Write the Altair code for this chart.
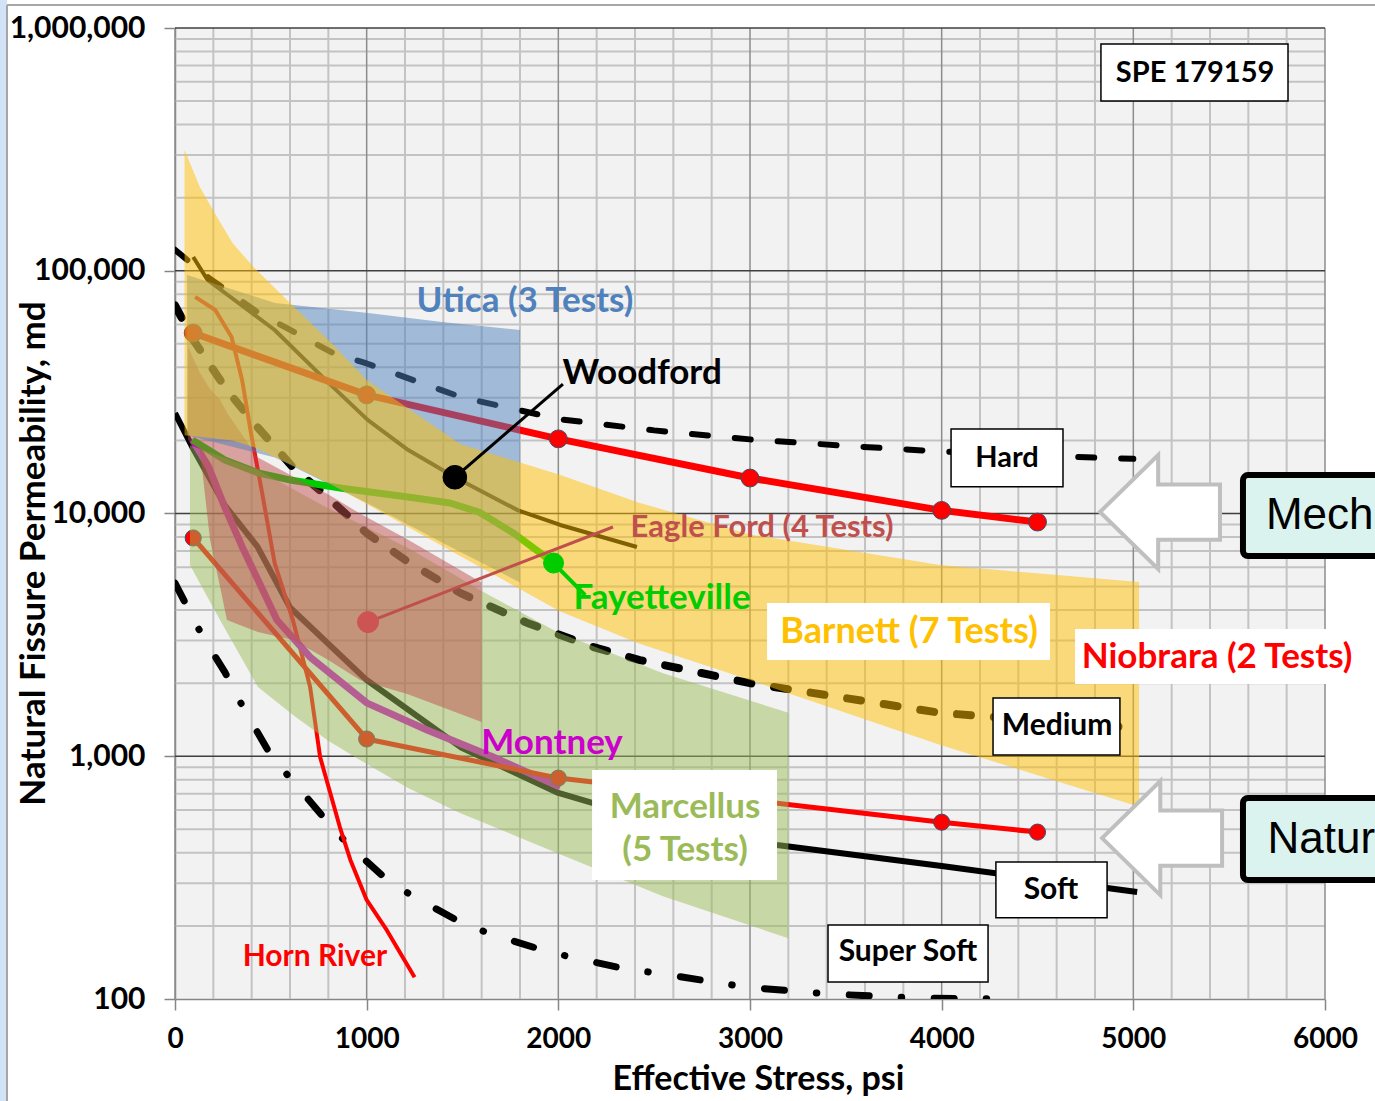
import altair as alt
import pandas as pd

FONT = "Lato"

# ---------------- stiffness reference curves (effective stress psi, permeability md)
HARD_PSI = [0, 180, 430, 820, 1000, 1490, 2000, 2500, 3000, 3500, 4000, 4500, 5000]
HARD_MD = [122000, 93000, 67500, 46000, 41500, 30200, 24500, 22000, 20200, 19000, 18000, 17300, 16800]

MEDIUM_PSI = [0, 95, 270, 430, 615, 795, 1000, 1225, 1490, 1835, 2180, 2425, 3000, 3990, 5000]
MEDIUM_MD = [72000, 52000, 32300, 22700, 15500, 11700, 8300, 6250, 4700, 3550, 2820, 2490, 2000, 1510, 1310]

SOFT_PSI = [0, 90, 260, 430, 600, 1000, 1490, 2000, 2500, 3140, 4000, 5020]
SOFT_MD = [25900, 18800, 10800, 7300, 4100, 2060, 1090, 706, 540, 431, 353, 276]

SUPER_PSI = [0, 140, 260, 360, 505, 610, 800, 905, 1120, 1250, 1500, 1650, 1930, 2080, 2370, 2515, 2975, 3405, 3860, 4300]
SUPER_MD = [5170, 3160, 2220, 1565, 993, 798, 531, 431, 303, 263, 205, 185, 158, 148, 132, 128, 112, 105, 101, 100]

# ---------------- shale test curves
WOODFORD_PSI = [95, 170, 520, 785, 1005, 1215, 1460, 1790, 2010, 2410]
WOODFORD_MD = [114000, 91600, 57000, 35500, 24300, 18300, 14100, 10300, 8970, 7280]

NIO_A_PSI = [95, 1000, 2000, 3000, 4000, 4500]
NIO_A_MD = [55400, 30800, 20300, 14000, 10300, 9220]
NIO_B_PSI = [95, 1000, 2000, 4000, 4500]
NIO_B_MD = [7930, 1178, 813, 535, 487]

HORN_PSI = [105, 210, 295, 350, 400, 455, 520, 615, 705, 757, 860, 915, 1000, 1105, 1250]
HORN_MD = [78000, 68900, 53300, 35500, 20700, 12100, 6250, 3640, 1930, 993, 511, 374, 256, 192, 123]

MONTNEY_PSI = [90, 175, 260, 350, 433, 532, 704, 1000, 1315, 1660, 2010]
MONTNEY_MD = [20100, 15600, 10600, 7300, 5320, 3640, 2565, 1660, 1283, 993, 747]

FAYETTE_PSI = [90, 260, 433, 610, 870, 1215, 1435, 1590, 1765, 1905, 1975]
FAYETTE_MD = [20100, 16600, 14700, 13700, 12700, 11700, 11050, 10100, 8310, 6880, 6250]

# ---------------- test envelopes (upper / lower bounds at shared stresses)
BARNETT_PSI = [50, 130, 220, 300, 410, 600, 820, 1000, 1490, 2010, 2425, 3000, 3990, 5030]
BARNETT_HI = [314000, 221000, 166000, 130000, 103500, 73600, 50000, 35500, 19300, 14400, 11050, 8200, 6140, 5220]
BARNETT_LO = [21000, 20700, 20300, 20000, 18800, 15950, 13100, 10950, 6670, 3950, 2910, 2060, 1115, 620]

UTICA_PSI = [63, 522, 1007, 1393, 1800]
UTICA_HI = [96100, 73600, 67000, 61500, 57000]
UTICA_LO = [21000, 17000, 11000, 7600, 5200]

EAGLE_PSI = [68, 130, 183, 235, 271, 433, 616, 798, 965, 1216, 1600]
EAGLE_HI = [48500, 38000, 32500, 29400, 26000, 17000, 14200, 12000, 10000, 7800, 5200]
EAGLE_LO = [20100, 18300, 7780, 5000, 3640, 3250, 3010, 2500, 2060, 1800, 1385]

MARC_PSI = [78, 235, 433, 616, 798, 965, 1216, 1490, 1590, 1993, 2546, 3200]
MARC_HI = [19100, 17200, 15100, 12600, 10500, 9060, 7210, 5400, 4840, 3250, 2200, 1510]
MARC_LO = [6140, 3640, 1930, 1480, 1160, 966, 740, 583, 541, 399, 265, 178]

# ---------------- annotation anchors
WOODFORD_PIN = ([1460, 2024], [14100, 34100])
EAGLE_PIN = ([1007, 2285], [3570, 8800])
FAYETTE_PIN = ([1975, 2140], [6250, 4610])

LABEL_TEXT = ["Utica (3 Tests)", "Woodford", "Eagle Ford (4 Tests)", "Fayetteville",
              "Barnett (7 Tests)", "Niobrara (2 Tests)", "Montney", "Marcellus", "(5 Tests)",
              "Horn  River", "Hard", "Medium", "Soft", "Super Soft", "SPE 179159"]
LABEL_PSI = [1826, 2437, 3063, 2541, 3830, 5437, 1967, 2661, 2661, 730, 4341, 4602, 4570, 3824, 5322]
LABEL_MD = [75000, 37900, 8710, 4490, 3250, 2565, 1134, 618, 411, 149, 16900, 1333, 281, 156, 652000]
LABEL_COLOR = ["#4F81BD", "#000000", "#C0504D", "#00CC00", "#FFC000", "#FF0000", "#CC00CC",
               "#9BBB59", "#9BBB59", "#FF0000", "#000000", "#000000", "#000000", "#000000", "#000000"]
LABEL_SIZE = [35, 35, 31, 35, 36, 35, 35, 35, 35, 30, 29, 30, 30, 30, 29]

# label boxes: psi left/right, md top/bottom
FRAMED_X1 = [4049, 4268, 4283, 3407, 4831]
FRAMED_X2 = [4633, 4930, 4863, 4242, 5807]
FRAMED_Y1 = [22300, 1738, 367, 202, 859000]
FRAMED_Y2 = [12900, 1012, 216, 117.5, 500000]

PLAIN_X1 = [3089, 4696, 2176]
PLAIN_X2 = [4565, 6167, 3141]
PLAIN_Y1 = [4280, 3340, 877]
PLAIN_Y2 = [2490, 1985, 309]

SIDE_TEXT = ["Mech", "Natur"]
SIDE_TEXT_PSI = [5692, 5700]
SIDE_TEXT_MD = [9770, 452]
SIDE_X1 = [5572, 5572]
SIDE_X2 = [6450, 6450]
SIDE_Y1 = [14400, 673]
SIDE_Y2 = [6680, 309]

ARROW_PSI = [5139, 5150]
ARROW_MD = [10140, 460]

GRID_MINOR_X = [v for v in range(200, 6000, 200) if v % 1000]
GRID_MAJOR_X = list(range(0, 6001, 1000))
GRID_MINOR_Y = [m * 10 ** e for e in range(2, 6) for m in range(2, 10)]
GRID_MAJOR_Y = [100, 1000, 10000, 100000, 1000000]

xs = alt.Scale(domain=[0, 6000], nice=False, zero=False)
ys = alt.Scale(type="log", domain=[100, 1000000], nice=False)

x_axis = alt.Axis(
    values=GRID_MAJOR_X, format="d", title="Effective Stress, psi", grid=False,
    domainColor="#868686", domainWidth=1.5, tickSize=11, tickColor="#868686", tickWidth=1.5,
    labelFont=FONT, labelFontSize=28, labelFontWeight="bold", labelColor="#000000",
    labelPadding=15, labelFlush=False,
    titleFont=FONT, titleFontSize=34, titleFontWeight="bold", titleColor="#000000",
    titleX=583, titleY=80, titleAlign="center", titleBaseline="middle",
)
y_axis = alt.Axis(
    values=GRID_MAJOR_Y, format=",d", title="Natural Fissure Permeability, md", grid=False,
    domainColor="#868686", domainWidth=1.5, tickSize=11, tickColor="#868686", tickWidth=1.5,
    labelFont=FONT, labelFontSize=30, labelFontWeight="bold", labelColor="#000000",
    labelPadding=19, labelFlush=False,
    titleFont=FONT, titleFontSize=35, titleFontWeight="bold", titleColor="#000000",
    titleX=-142, titleY=525, titleAngle=270, titleAlign="center", titleBaseline="middle",
)


def X(field="psi"):
    return alt.X(f"{field}:Q", scale=xs, axis=x_axis)


def Y(field="md"):
    return alt.Y(f"{field}:Q", scale=ys, axis=y_axis)


def frame(psi, md):
    return pd.DataFrame({"psi": psi, "md": md, "i": range(len(psi))})


def line(psi, md, color, width, dash=None, cap="butt"):
    kw = dict(color=color, strokeWidth=width, clip=True, strokeCap=cap, strokeJoin="round")
    if dash:
        kw["strokeDash"] = dash
    return alt.Chart(frame(psi, md)).mark_line(**kw).encode(x=X(), y=Y(), order="i:Q")


def dots(psi, md, color, size, stroke="#3E4F6B"):
    return alt.Chart(frame(psi, md)).mark_circle(
        size=size, color=color, opacity=1, stroke=stroke, strokeWidth=1
    ).encode(x=X(), y=Y())


def band(psi, hi, lo, color):
    df = pd.DataFrame({"psi": psi, "hi": hi, "lo": lo})
    return alt.Chart(df).mark_area(color=color, opacity=0.5, clip=True).encode(
        x=X(), y=Y("hi"), y2=alt.Y2("lo:Q")
    )


def boxes(x1, x2, y1, y2, **style):
    df = pd.DataFrame({"x1": x1, "x2": x2, "y1": y1, "y2": y2})
    return alt.Chart(df).mark_rect(**style).encode(
        x=X("x1"), x2=alt.X2("x2:Q"), y=Y("y1"), y2=alt.Y2("y2:Q")
    )


layers = []

# grid
layers.append(alt.Chart(pd.DataFrame({"psi": GRID_MINOR_X})).mark_rule(color="#C3C3C3", strokeWidth=2).encode(x=X()))
layers.append(alt.Chart(pd.DataFrame({"md": GRID_MINOR_Y})).mark_rule(color="#C3C3C3", strokeWidth=2).encode(y=Y()))
layers.append(alt.Chart(pd.DataFrame({"psi": GRID_MAJOR_X})).mark_rule(color="#8C8C8C", strokeWidth=1.5).encode(x=X()))
layers.append(alt.Chart(pd.DataFrame({"md": GRID_MAJOR_Y[1:]})).mark_rule(color="#3F3F3F", strokeWidth=1.5).encode(y=Y()))

# curves (drawn beneath the translucent envelopes)
layers.append(line(SUPER_PSI, SUPER_MD, "#000000", 7, dash=[20, 32, 0.5, 32.5], cap="round"))
layers.append(line(SOFT_PSI, SOFT_MD, "#000000", 6))
layers.append(line(MEDIUM_PSI, MEDIUM_MD, "#000000", 8, dash=[14, 23], cap="round"))
layers.append(line(HARD_PSI, HARD_MD, "#000000", 6, dash=[16, 27], cap="round"))
layers.append(line(WOODFORD_PSI, WOODFORD_MD, "#000000", 4))
layers.append(line(HORN_PSI, HORN_MD, "#FF0000", 4))
layers.append(line(MONTNEY_PSI, MONTNEY_MD, "#CC00CC", 7))
layers.append(line(FAYETTE_PSI, FAYETTE_MD, "#00CC00", 7))
layers.append(line(NIO_B_PSI, NIO_B_MD, "#FF0000", 5))
layers.append(line(NIO_A_PSI, NIO_A_MD, "#FF0000", 7))
layers.append(dots(NIO_B_PSI, NIO_B_MD, "#FF0000", 260))
layers.append(dots(NIO_A_PSI, NIO_A_MD, "#FF0000", 320))

# envelopes
layers.append(band(MARC_PSI, MARC_HI, MARC_LO, "#9BBB59"))
layers.append(band(EAGLE_PSI, EAGLE_HI, EAGLE_LO, "#C0504D"))
layers.append(band(UTICA_PSI, UTICA_HI, UTICA_LO, "#4F81BD"))
layers.append(band(BARNETT_PSI, BARNETT_HI, BARNETT_LO, "#FFC000"))

# pointers to labelled points
layers.append(line(*WOODFORD_PIN, "#000000", 3))
layers.append(line(*EAGLE_PIN, "#C0504D", 3))
layers.append(line(*FAYETTE_PIN, "#00CC00", 4))
layers.append(dots(WOODFORD_PIN[0][:1], WOODFORD_PIN[1][:1], "#000000", 560, stroke="#000000"))
layers.append(dots(EAGLE_PIN[0][:1], EAGLE_PIN[1][:1], "#CD5452", 440, stroke="#CD5452"))
layers.append(dots(FAYETTE_PIN[0][:1], FAYETTE_PIN[1][:1], "#00CC00", 400, stroke="#00CC00"))

# block arrows
ARROW = "M -1 0 L -0.03 -0.95 L -0.03 -0.46 L 1 -0.46 L 1 0.46 L -0.03 0.46 L -0.03 0.95 Z"
layers.append(alt.Chart(frame(ARROW_PSI, ARROW_MD)).mark_point(
    shape=ARROW, size=14400, filled=True, fill="#FFFFFF", stroke="#BFBFBF", strokeWidth=4, opacity=1
).encode(x=X(), y=Y()))

# label boxes
layers.append(boxes(PLAIN_X1, PLAIN_X2, PLAIN_Y1, PLAIN_Y2, fill="#FFFFFF", opacity=1))
layers.append(boxes(FRAMED_X1, FRAMED_X2, FRAMED_Y1, FRAMED_Y2, fill="#FFFFFF", stroke="#000000", strokeWidth=1.5, opacity=1))

labels = pd.DataFrame({"psi": LABEL_PSI, "md": LABEL_MD, "text": LABEL_TEXT,
                       "color": LABEL_COLOR, "size": LABEL_SIZE})
layers.append(alt.Chart(labels).mark_text(font=FONT, fontWeight="bold", align="center", baseline="middle").encode(
    x=X(), y=Y(), text="text:N", color=alt.Color("color:N", scale=None), size=alt.Size("size:Q", scale=None)
))

# side panels reaching past the plot edge
layers.append(boxes(SIDE_X1, SIDE_X2, SIDE_Y1, SIDE_Y2, fill="#DBF3EF", stroke="#000000", strokeWidth=6,
                    cornerRadius=5, opacity=1, clip=False))
side = pd.DataFrame({"psi": SIDE_TEXT_PSI, "md": SIDE_TEXT_MD, "text": SIDE_TEXT})
layers.append(alt.Chart(side).mark_text(font="Liberation Sans", fontSize=44, align="left", baseline="middle",
                                        color="#000000", clip=False).encode(x=X(), y=Y(), text="text:N"))

# slide edge
edge = pd.DataFrame({"a": [0]})
layers.append(alt.Chart(edge).mark_rect(color="#D3E3F7", clip=False).encode(
    x=alt.value(-175), x2=alt.value(-168), y=alt.value(-28), y2=alt.value(1073)))
layers.append(alt.Chart(edge).mark_rule(color="#A6A6A6", strokeWidth=2, clip=False).encode(
    x=alt.value(-168), x2=alt.value(1200), y=alt.value(-23)))
layers.append(alt.Chart(edge).mark_rule(color="#A6A6A6", strokeWidth=2, clip=False).encode(
    x=alt.value(-168), y=alt.value(-23), y2=alt.value(1073)))

chart = alt.layer(*layers).properties(
    width=1150, height=971,
    padding={"left": 175, "top": 28, "right": 50, "bottom": 102},
    autosize=alt.AutoSizeParams(type="none"),
    background="#FFFFFF",
).configure_view(fill="#F2F2F2", stroke=None)

chart.save("out.html", embed_options={"renderer": "svg", "actions": False})
